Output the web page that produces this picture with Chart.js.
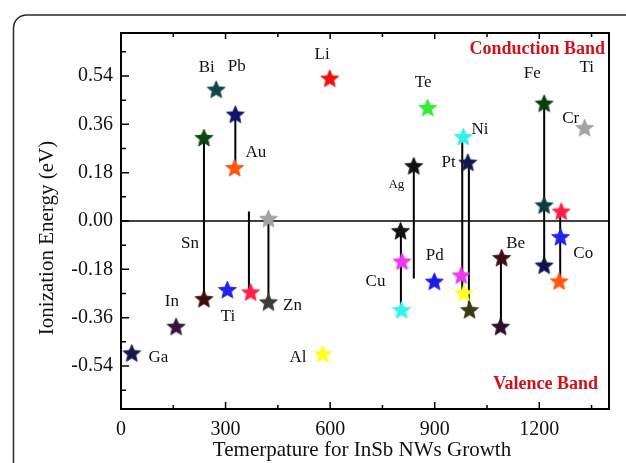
<!DOCTYPE html>
<html>
<head>
<meta charset="utf-8">
<script src="https://cdn.jsdelivr.net/npm/chart.js@4.4.1/dist/chart.umd.min.js"></script>
<style>
html, body { margin: 0; padding: 0; background: #fff; }
</style>
</head>
<body>
<canvas id="ionChart" width="626" height="463"></canvas>
<script>
// growth temperature and ionization energy of each star
const tempX = [31, 158, 238, 238, 273, 328, 326, 305, 372, 423, 423, 599, 579,
    802, 806, 805, 840, 880, 899, 982, 995, 976, 984, 1000, 1092, 1089,
    1214, 1214, 1214, 1330, 1263, 1261, 1257];
const energyY = [-0.491, -0.392, -0.289, 0.311, 0.491, 0.398, 0.199, -0.255, -0.264, 0.010, -0.301, 0.532, -0.494,
    -0.036, -0.149, -0.330, 0.206, 0.423, -0.224, 0.315, 0.219, -0.201, -0.267, -0.330, -0.136, -0.392,
    0.439, 0.060, -0.164, 0.348, 0.037, -0.058, -0.223];
const starColors = ['#15154d', '#3b1236', '#3d0c0c', '#0e4412', '#0f4545', '#12126e', '#ff5512', '#2222ee', '#ff1e46', '#a3a3a3', '#3b3b3b', '#ee1010', '#ffff22',
    '#111111', '#ee38ee', '#38f2f2', '#111111', '#33ee33', '#1a1aee', '#38eeee', '#15154d', '#ee38ee', '#ffff22', '#3a3a12', '#3d0c14', '#2e0c2e',
    '#0c3d12', '#0c3d3d', '#12124a', '#a3a3a3', '#ff1e46', '#2222ee', '#ff5512'];

// vertical bars joining levels of the same element
const segX = [238, 328, 367, 423, 840, 803, 979, 998, 1090, 1214, 1260];
const segTop = [0.311, 0.398, 0.035, 0.010, 0.206, -0.036, 0.315, 0.219, -0.136, 0.439, 0.037];
const segBottom = [-0.289, 0.199, -0.264, -0.301, -0.214, -0.330, -0.270, -0.330, -0.392, -0.164, -0.223];

// element names, placed in data units
const labelText = ['Bi', 'Pb', 'Au', 'Li', 'Sn', 'In', 'Ti', 'Zn', 'Ga', 'Al', 'Te', 'Ni', 'Pt', 'Ag', 'Fe', 'Ti', 'Cr', 'Pd', 'Cu', 'Be', 'Co'];
const labelX = [246, 332, 387, 577, 198, 146, 307, 492, 107, 508, 867, 1030, 940, 790, 1180, 1336, 1290, 900, 730, 1132, 1326];
const labelY = [0.572, 0.577, 0.254, 0.618, -0.083, -0.300, -0.356, -0.313, -0.508, -0.508, 0.515, 0.339, 0.219, 0.134, 0.550, 0.571, 0.383, -0.127, -0.226, -0.083, -0.120];

const xTicks = [0, 300, 600, 900, 1200];
const xMinorTicks = [150, 450, 750, 1050, 1350];
const yTicks = [-0.54, -0.36, -0.18, 0, 0.18, 0.36, 0.54];
const yMinorTicks = [-0.63, -0.45, -0.27, -0.09, 0.09, 0.27, 0.45, 0.63];

const serif = '"Liberation Serif", "DejaVu Serif", serif';

function makeStar(color) {
    const r = 9.4;
    const size = Math.ceil(2 * r + 4);
    const cv = document.createElement('canvas');
    cv.width = size;
    cv.height = size;
    const g = cv.getContext('2d');
    g.beginPath();
    for (let i = 0; i < 10; i++) {
        const rad = i % 2 ? r * 0.45 : r;
        const ang = -Math.PI / 2 + i * Math.PI / 5;
        g.lineTo(size / 2 + rad * Math.cos(ang), size / 2 + 1 + rad * Math.sin(ang));
    }
    g.closePath();
    g.fillStyle = color;
    g.fill();
    g.lineWidth = 0.8;
    g.strokeStyle = color;
    g.stroke();
    return cv;
}

const starImages = starColors.map(makeStar);

const segDatasets = segX.map((x, i) => ({
    type: 'line',
    data: [{ x: x, y: segTop[i] }, { x: x, y: segBottom[i] }],
    borderColor: '#000',
    borderWidth: 2,
    pointRadius: 0,
    order: 2
}));

const framePlugin = {
    id: 'frame',
    beforeDraw(chart) {
        const c = chart.ctx;
        c.save();
        c.strokeStyle = '#2a2a2a';
        c.lineWidth = 1.5;
        c.beginPath();
        c.roundRect(13.5, 15, 700, 520, 13);
        c.stroke();
        c.restore();
    },
    beforeDatasetsDraw(chart) {
        const { ctx, chartArea: a, scales: { x, y } } = chart;
        ctx.save();
        ctx.strokeStyle = '#000';
        // zero line
        ctx.lineWidth = 1.5;
        const y0 = y.getPixelForValue(0);
        ctx.beginPath();
        ctx.moveTo(a.left, y0);
        ctx.lineTo(a.right, y0);
        ctx.stroke();
        // inward ticks
        ctx.lineWidth = 1.5;
        ctx.beginPath();
        xTicks.forEach(v => {
            const px = x.getPixelForValue(v);
            ctx.moveTo(px, a.bottom); ctx.lineTo(px, a.bottom - 7);
            ctx.moveTo(px, a.top); ctx.lineTo(px, a.top + 6);
        });
        xMinorTicks.forEach(v => {
            const px = x.getPixelForValue(v);
            ctx.moveTo(px, a.bottom); ctx.lineTo(px, a.bottom - 4);
            ctx.moveTo(px, a.top); ctx.lineTo(px, a.top + 4);
        });
        yTicks.forEach(v => {
            const py = y.getPixelForValue(v);
            ctx.moveTo(a.left, py); ctx.lineTo(a.left + 8, py);
        });
        yMinorTicks.forEach(v => {
            const py = y.getPixelForValue(v);
            ctx.moveTo(a.left, py); ctx.lineTo(a.left + 5, py);
        });
        ctx.stroke();
        // plot frame
        ctx.lineWidth = 2;
        ctx.strokeRect(a.left, a.top, a.right - a.left, a.bottom - a.top);
        ctx.restore();
    },
    afterDatasetsDraw(chart) {
        const { ctx, chartArea: a, scales: { x, y } } = chart;
        ctx.save();
        ctx.fillStyle = '#111';
        ctx.textAlign = 'center';
        ctx.textBaseline = 'middle';
        labelText.forEach((t, i) => {
            ctx.font = (t === 'Ag' ? '13px ' : '17px ') + serif;
            ctx.fillText(t, x.getPixelForValue(labelX[i]), y.getPixelForValue(labelY[i]));
        });
        ctx.fillStyle = '#d0121a';
        ctx.font = 'bold 18px ' + serif;
        ctx.textAlign = 'right';
        ctx.fillText('Conduction Band', a.right - 4, 49);
        ctx.fillText('Valence Band', a.right - 11, 384);
        // axis titles
        ctx.fillStyle = '#111';
        ctx.font = '21px ' + serif;
        ctx.textAlign = 'center';
        ctx.fillText('Temerpature for InSb NWs Growth', (a.left + a.right) / 2 - 3, 450);
        ctx.translate(47, 238);
        ctx.rotate(-Math.PI / 2);
        ctx.fillText('Ionization Energy (eV)', 0, 0);
        ctx.restore();
    }
};

new Chart(document.getElementById('ionChart').getContext('2d'), {
    type: 'scatter',
    data: {
        datasets: [{
            data: tempX.map((t, i) => ({ x: t, y: energyY[i] })),
            pointStyle: ctx => starImages[ctx.dataIndex],
            pointRadius: 6,
            order: 1
        }, ...segDatasets]
    },
    options: {
        responsive: false,
        animation: false,
        layout: { padding: { top: 33, right: 17, left: 0, bottom: 0 } },
        plugins: {
            legend: { display: false },
            tooltip: { enabled: false }
        },
        scales: {
            x: {
                type: 'linear',
                min: 0,
                max: 1400,
                afterFit: s => { s.height = 54; },
                afterBuildTicks: s => { s.ticks = xTicks.map(v => ({ value: v })); },
                grid: { display: false, drawTicks: false },
                border: { display: false },
                ticks: {
                    padding: 9,
                    color: '#111',
                    font: { family: serif, size: 20 },
                    callback: v => String(v)
                }
            },
            y: {
                type: 'linear',
                min: -0.7,
                max: 0.7,
                afterFit: s => { s.width = 121; },
                afterBuildTicks: s => { s.ticks = yTicks.map(v => ({ value: v })); },
                grid: { display: false, drawTicks: false },
                border: { display: false },
                ticks: {
                    padding: 8,
                    color: '#111',
                    font: { family: serif, size: 20 },
                    callback: v => v.toFixed(2)
                }
            }
        }
    },
    plugins: [framePlugin]
});
</script>
</body>
</html>
